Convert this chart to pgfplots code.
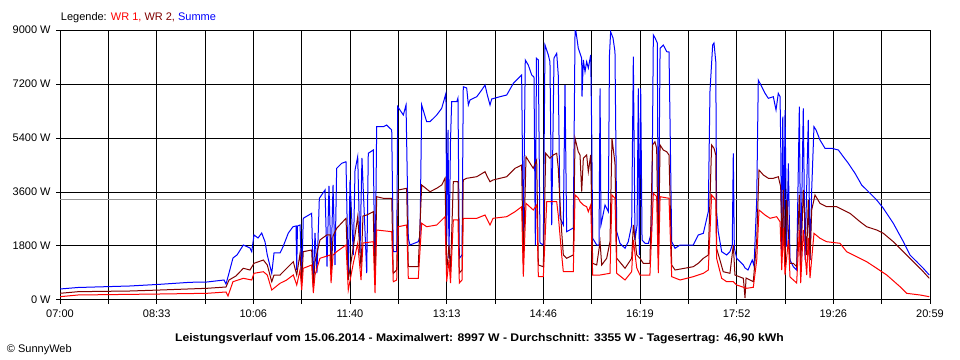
\documentclass[border=0pt]{standalone}
\usepackage{pgfplots}
\pgfplotsset{compat=1.18}
\usepackage{fontspec}
\setmainfont{Liberation Sans}
\definecolor{wrone}{RGB}{255,0,0}
\definecolor{wrtwo}{RGB}{128,0,0}
\definecolor{summe}{RGB}{0,0,255}
\definecolor{avg}{RGB}{150,150,150}
\begin{document}
\begin{tikzpicture}
\path[use as bounding box] (0,0) rectangle (720pt,270pt);
\begin{axis}[
 at={(45pt,45pt)}, anchor=south west,
 scale only axis, width=652.5pt, height=202.5pt,
 xmin=0, xmax=839, ymin=0, ymax=9000,
 xtick={0,93.222,186.444,279.667,372.889,466.111,559.333,652.556,745.778,839},
 xticklabels={07:00,08:33,10:06,11:40,13:13,14:46,16:19,17:52,19:26,20:59},
 minor xtick={46.611,139.833,233.056,326.278,419.5,512.722,605.944,699.167,792.389},
 ytick={0,1800,3600,5400,7200,9000},
 yticklabels={0 W,1800 W,3600 W,5400 W,7200 W,9000 W},
 grid=both,
 major grid style={black, line width=0.75pt},
 minor grid style={black, line width=0.75pt},
 axis line style={black, line width=0.75pt},
 every tick/.style={black, line width=0.75pt},
 every minor tick/.style={black, line width=0.75pt},
 tick align=outside,
 major tick length=3pt, minor tick length=3pt,
 xtick pos=lower, ytick pos=left,
 ticklabel style={font=\fontsize{8.25}{10}\selectfont},
 xticklabel style={yshift=-1pt},
 yticklabel style={xshift=-0.5pt},
]
\addplot[avg, line width=0.75pt] coordinates {(0,3355) (839,3355)};
% Summe
\addplot[summe, line width=0.75pt] table {
0 367
17.4 417
67.5 467
96.4 523
125.4 590
141.8 600
158.2 667
160.1 533
163.0 900
166.8 1400
170.7 1500
176.8 1833
183.2 1733
184.9 1610
187.1 2167
191.0 2067
194.5 2233
197.7 1943
199.9 1500
204.2 890
206.4 1567
212.2 1567
215.1 1777
220.2 2233
224.7 2443
227.6 2467
228.3 1000
229.0 2467
231.5 2500
233.1 667
234.6 2723
242.7 2890
244.3 443
245.9 2233
247.8 900
250.1 3390
255.6 3667
257.5 1110
259.4 3800
261.4 1133
263.3 3833
265.2 1167
266.8 4390
271.7 4557
275.8 4610
278.0 667
279.7 4000
282.9 1500
284.5 4333
287.1 4777
289.3 1567
291.2 4733
295.8 900
297.3 4890
302.1 5000
303.8 610
305.4 5777
311.8 5777
315.0 5833
319.9 5667
321.4 1610
324.7 1610
325.7 6443
331.1 6167
333.7 6500
335.9 2057
337.5 1833
345.5 1943
347.2 2133
348.8 6500
353.6 5943
356.8 5943
363.3 6167
368.1 6390
372.2 6890
372.9 1943
374.2 5667
375.1 1400
376.6 5333
377.7 6610
382.6 6610
383.8 6733
385.1 1390
387.7 1500
388.9 7110
392.2 7067
393.8 6500
395.4 6667
401.9 6777
406.7 7000
409.9 7167
412.1 6833
414.7 6500
416.3 6700
424.3 6777
430.8 6833
437.2 7223
442.0 7390
445.2 7500
446.8 1890
448.7 8000
451.6 7833
454.9 7500
457.1 7433
458.4 1833
459.5 8057
461.3 8000
462.9 1900
466.1 1833
467.7 8500
470.9 8167
472.5 7943
474.2 2500
476.4 8067
479.0 8223
480.5 7500
482.2 2733
485.4 2500
487.0 7167
488.6 2277
495.0 2400
496.7 8997
497.6 8943
499.8 8400
503.1 8057
503.4 6777
504.7 8000
506.3 7610
507.9 7943
509.5 7733
511.8 8167
512.8 5500
513.7 2057
517.6 1833
519.8 1833
520.8 7057
521.7 2500
525.6 3167
528.8 2943
529.9 8167
531.0 8943
533.3 8733
535.2 8277
536.9 2277
540.0 1890
544.9 1723
548.0 1943
551.3 2500
552.9 8110
554.5 2000
556.5 2500
557.7 7057
558.7 1500
560.0 7057
561.3 2000
564.2 1890
567.4 1890
570.6 2277
572.2 8833
573.9 8733
576.0 8567
577.0 1500
578.7 8390
581.8 8500
585.1 8277
587.3 8267
588.3 5943
589.9 1943
593.1 1723
598.0 1833
610.7 1833
615.5 2167
620.4 2223
625.2 2943
626.8 6943
629.4 8500
630.7 8567
632.4 7943
633.2 2943
634.8 2277
638.1 1610
642.9 1500
646.1 1610
648.3 1833
649.3 4890
650.3 1733
652.6 1390
659.0 1167
660.6 1067
663.5 1000
667.6 1333
669.3 1133
671.9 3333
673.4 7333
676.7 7110
679.9 6890
683.1 6723
687.9 6777
690.5 6333
692.7 6890
694.4 6777
695.0 5333
696.0 1333
697.0 6110
698.2 2000
699.2 6333
700.8 1777
702.4 4557
704.0 1333
707.2 1110
710.4 1000
711.7 3777
713.0 6443
714.3 1110
716.8 6390
718.5 1333
720.1 3777
721.6 6000
723.3 1333
724.9 3667
727.1 5777
729.1 5667
732.9 5333
737.7 5057
744.2 5057
750.6 5000
755.4 4777
760.2 4557
766.7 4223
773.1 3833
781.2 3557
787.6 3333
794.0 3057
803.6 2557
813.3 1943
819.7 1500
826.2 1277
832.5 1057
838.3 833
};
% WR 2
\addplot[wrtwo, line width=0.75pt] table {
0 223
17.4 277
67.5 300
96.4 333
141.8 390
160.1 433
163.0 667
169.7 800
176.8 1057
183.2 1000
187.1 1223
196.1 1333
199.9 1167
204.2 610
206.4 833
212.2 833
218.6 1057
225.0 1277
228.3 833
231.5 1557
233.1 567
234.6 1610
242.7 1667
244.3 443
245.9 1267
250.7 2000
257.2 2167
260.4 2167
261.4 900
263.3 2133
266.8 2390
275.8 2723
278.0 667
282.9 1777
287.1 2777
290.3 1067
292.2 2800
295.8 2833
302.1 2943
303.8 500
305.4 3443
311.8 3390
319.9 3390
321.4 890
324.7 1000
326.2 3667
334.3 3723
335.9 1110
345.5 1110
348.8 3833
356.8 3610
363.3 3723
368.1 3833
371.3 4057
372.9 943
375.1 1833
376.6 943
379.3 3943
383.8 3943
385.1 900
387.7 1000
388.9 4000
392.2 4057
401.9 4110
409.9 4277
412.1 4110
414.7 3943
417.6 4000
430.8 4110
438.8 4390
445.2 4500
446.8 1167
449.4 4777
453.3 4557
456.4 4390
459.7 4667
461.3 1167
466.1 1110
468.4 4890
472.5 4723
475.7 4833
479.0 4890
480.5 4400
482.2 3233
483.8 2277
485.4 1500
488.6 1390
495.0 1500
496.7 5390
499.8 4943
501.5 4833
503.1 3610
504.7 4723
507.9 4833
509.5 4277
511.8 4833
513.7 1223
517.6 1167
520.8 1943
522.4 1167
527.2 1390
530.4 1943
532.3 5390
535.2 4557
536.9 1390
544.9 1057
551.3 1390
552.9 2500
556.2 1500
559.3 1390
562.5 1223
568.9 1223
571.5 5167
573.7 5277
575.4 5057
577.0 1390
578.7 5167
581.8 5000
585.1 4943
587.3 4833
589.9 1167
593.1 1000
610.7 1110
615.5 1223
620.4 1390
625.2 1500
628.4 5167
630.7 5057
632.4 4833
633.2 1723
639.6 943
646.1 890
649.3 1833
650.9 833
659.0 723
660.6 67
661.6 733
668.6 610
671.9 2000
674.1 4333
678.3 4167
683.1 4057
687.9 4057
692.7 4110
695.0 3777
696.3 1667
697.6 3667
699.2 1333
700.8 3333
704.0 1223
707.2 1223
710.4 1110
713.0 3500
714.3 1110
716.8 3667
720.1 1500
721.6 3333
723.3 1333
724.9 3000
728.1 3500
732.9 3223
739.4 3110
749.0 3110
755.4 3000
761.8 2890
771.5 2610
777.9 2443
787.6 2333
794.0 2223
803.6 1943
813.3 1610
822.9 1277
831.0 1000
838.3 723
};
% WR 1
\addplot[wrone, line width=0.75pt] table {
0 110
17.4 167
96.4 200
141.8 223
160.1 267
162.0 133
166.8 610
176.8 723
184.9 667
187.1 890
196.1 943
199.9 833
204.2 333
212.2 557
218.6 667
225.0 833
228.3 500
231.5 1000
233.1 333
234.6 1057
242.7 1167
244.3 233
245.9 833
250.7 1390
260.4 1500
261.4 567
263.3 1500
266.8 1610
275.8 1833
278.0 333
282.9 1233
287.1 1890
290.3 667
292.2 1900
302.1 1943
303.8 233
305.4 2333
319.9 2277
321.4 610
324.7 667
326.2 2443
334.3 2500
335.9 723
345.5 723
348.8 2557
353.6 2443
363.3 2500
371.3 2777
372.9 610
375.1 1333
376.6 567
379.3 2667
383.8 2667
385.1 567
387.7 667
388.9 2723
401.9 2723
409.9 2833
414.7 2500
417.6 2723
430.8 2777
438.8 2943
445.2 3110
446.8 777
449.4 3223
456.4 3000
459.7 3167
461.3 777
466.1 777
469.4 3277
479.0 3277
480.5 2833
483.8 1500
485.4 943
495.0 943
496.7 3500
499.8 3400
501.5 3277
504.7 3167
507.9 3110
509.5 2943
511.8 3167
513.7 833
520.8 833
530.4 890
532.3 3500
535.2 3390
536.9 890
544.9 667
551.3 943
552.9 2000
556.2 1067
559.3 833
568.9 833
572.2 3557
575.4 3443
577.0 900
578.7 3443
587.3 3390
589.9 777
598.0 667
610.7 777
620.4 890
625.2 1000
628.4 3500
632.4 3333
633.2 1390
638.1 723
642.9 610
649.3 610
652.6 500
662.2 390
668.6 423
671.9 1333
674.1 3000
679.9 2833
684.7 2723
691.1 2777
694.4 2610
696.0 1000
697.6 2400
699.2 833
702.4 2000
704.0 767
710.4 567
713.0 2333
714.3 567
716.8 2333
720.1 833
721.6 2067
723.3 733
727.1 2223
732.9 2057
739.4 1943
752.2 1890
758.6 1610
768.3 1443
777.9 1277
787.6 1057
797.3 833
810.1 443
816.5 223
829.4 167
838.3 110
};
\end{axis}
\node[anchor=base west, inner sep=0pt, font=\fontsize{8.25}{10}\selectfont] at (45.5pt,254.6pt)
 {Legende: \textcolor{wrone}{WR 1,} \textcolor{wrtwo}{WR 2,} \textcolor{summe}{Summe}};
\node[anchor=base, inner sep=0pt, xscale=1.1, font=\bfseries\fontsize{8.3}{10}\selectfont] at (359.6pt,13.7pt)
 {Leistungsverlauf vom 15.06.2014 - Maximalwert: 8997 W - Durchschnitt: 3355 W - Tagesertrag: 46,90 kWh};
\node[anchor=base west, inner sep=0pt, font=\fontsize{8.25}{10}\selectfont] at (5pt,5.25pt)
 {\textcopyright\ SunnyWeb};
\end{tikzpicture}
\end{document}
